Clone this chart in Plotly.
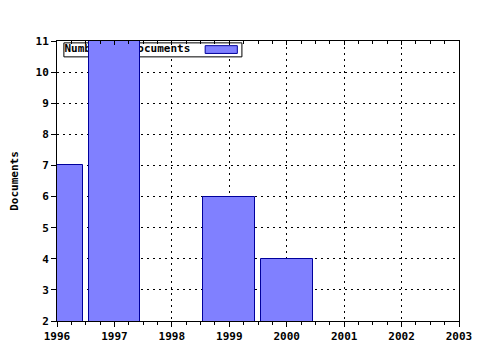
import plotly.graph_objects as go

years = [1996, 1997, 1999, 2000]
documents = [7, 11, 6, 4]
series_name = "Number of Documents"
y_title = "Documents"
x_ticks = [1996, 1997, 1998, 1999, 2000, 2001, 2002, 2003]
y_ticks = [2, 3, 4, 5, 6, 7, 8, 9, 10, 11]

FONT = dict(family="DejaVu Sans Mono", size=11, color="black", weight="bold")
BAR_FILL = "#8080ff"
BAR_LINE = "#00009c"
GRID_DASH = "2px,4px"

fig = go.Figure()

# legend-like label on the base subplot (drawn beneath the bars)
fig.add_trace(go.Scatter(x=[1996.13], y=[10.72], mode="text", text=[series_name],
                         textposition="middle right", textfont=FONT,
                         showlegend=False, hoverinfo="skip", xaxis="x", yaxis="y"))

fig.add_trace(go.Bar(x=years, y=documents, width=0.9, name=series_name,
                     marker=dict(color=BAR_FILL, line=dict(color=BAR_LINE, width=1)),
                     showlegend=False, xaxis="x2", yaxis="y2"))

# legend box and swatch
fig.add_shape(type="rect", xref="x", yref="y", x0=1996.12, x1=1999.22, y0=10.49, y1=10.94,
              line=dict(color="black", width=1), fillcolor="white", layer="between")
fig.add_shape(type="rect", xref="x", yref="y", x0=1998.58, x1=1999.14, y0=10.6, y1=10.85,
              line=dict(color=BAR_LINE, width=1), fillcolor=BAR_FILL, layer="between")

xr = [1996, 2003]
yr = [2, 11]

fig.update_layout(
    width=480, height=350,
    margin=dict(l=57, r=21, t=41, b=29, autoexpand=False),
    paper_bgcolor="white", plot_bgcolor="white",
    font=FONT,
    bargap=0,
    xaxis=dict(range=xr, tickvals=x_ticks, ticks="outside", ticklen=5, tickcolor="black",
               showline=True, linecolor="black", linewidth=1, automargin=False,
               showgrid=True, gridcolor="black", griddash=GRID_DASH, gridwidth=1,
               minor=dict(dtick=0.25, ticks="outside", ticklen=3, tickcolor="black", showgrid=False),
               tickfont=FONT, zeroline=False, fixedrange=True),
    yaxis=dict(range=yr, tickvals=y_ticks, ticks="outside", ticklen=5, tickcolor="black",
               showline=True, linecolor="black", linewidth=1, automargin=False,
               showgrid=True, gridcolor="black", griddash=GRID_DASH, gridwidth=1,
               tickfont=FONT, zeroline=False,
               title=dict(text=y_title, font=FONT, standoff=14)),
    xaxis2=dict(range=xr, overlaying="x", side="top", anchor="y2", tickvals=x_ticks,
                ticks="inside", ticklen=4, tickcolor="black", showticklabels=False,
                showline=True, linecolor="black", linewidth=1, showgrid=False, zeroline=False,
                automargin=False,
                minor=dict(dtick=0.25, ticks="inside", ticklen=3, tickcolor="black", showgrid=False)),
    yaxis2=dict(range=yr, overlaying="y", side="right", anchor="x2", ticks="",
                showticklabels=False, showline=True, linecolor="black", linewidth=1,
                showgrid=False, zeroline=False, automargin=False),
)

fig.write_html("out.html")
